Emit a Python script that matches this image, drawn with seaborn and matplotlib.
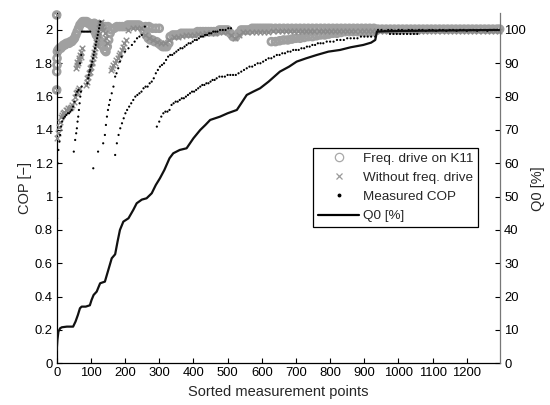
import numpy as np
import pandas as pd
import matplotlib as mpl
mpl.use("Agg")
import matplotlib.pyplot as plt
from matplotlib.lines import Line2D
import seaborn as sns

# --- values (x = sorted point index) ---
# Q0 [%] (right axis)
q0_curve = [(0, 4), (2, 7), (5, 9.5), (10, 10.5), (15, 10.8), (30, 11), (48, 11), (55, 12.5),
            (62, 14.5), (68, 16.5), (73, 17), (85, 17), (97, 17.4), (102, 19), (108, 20.5),
            (117, 21.5), (127, 24), (141, 24.5), (151, 28), (161, 31.5), (171, 32.7), (178, 36.5),
            (185, 40), (195, 42.5), (210, 43.5), (224, 46), (234, 48), (249, 49.1), (263, 49.5),
            (278, 51), (290, 53.5), (302, 55.5), (315, 58), (330, 61.5), (341, 63), (360, 64),
            (380, 64.5), (390, 66), (400, 67.5), (420, 70), (435, 71.5), (449, 73), (478, 74),
            (500, 75), (527, 76), (540, 78), (556, 80.5), (575, 81.5), (595, 82.5), (620, 84.5),
            (653, 87.5), (680, 89), (702, 90.5), (730, 91.5), (761, 92.5), (795, 93.5), (829, 94),
            (860, 94.8), (897, 95.5), (920, 96.2), (932, 97), (937, 99.5), (960, 99.6),
            (1000, 99.7), (1100, 99.8), (1200, 99.9), (1297, 100)]

# Measured COP (black dots), several branches
meas_b1 = [(0, 0.70), (1, 0.87), (2, 1.03), (3, 1.20), (5, 1.28), (8, 1.33), (10, 1.37), (13, 1.42),
           (16, 1.45), (20, 1.47), (24, 1.48), (28, 1.49), (32, 1.50), (36, 1.50), (40, 1.51),
           (44, 1.52), (48, 1.54), (52, 1.57), (56, 1.61), (60, 1.63), (64, 1.64), (68, 1.80),
           (72, 1.85), (74, 1.99), (78, 1.99), (82, 1.99), (86, 1.99), (90, 1.99), (94, 1.99), (98, 1.99)]
meas_b2 = [(50, 1.27), (54, 1.34), (57, 1.38), (59, 1.41), (61, 1.45), (63, 1.48), (65, 1.52),
           (67, 1.56), (69, 1.60), (71, 1.63), (73, 1.66)]
meas_b3 = [(90, 1.68), (92, 1.71), (94, 1.73), (96, 1.75), (98, 1.76), (100, 1.78), (102, 1.79),
           (104, 1.81), (106, 1.83), (108, 1.85), (110, 1.87), (112, 1.89), (114, 1.91), (116, 1.93),
           (118, 1.95), (120, 1.97), (122, 1.99), (124, 2.01), (126, 2.03), (128, 2.05)]
meas_b4 = [(107, 1.17), (121, 1.27), (136, 1.32), (141, 1.37), (144, 1.43), (147, 1.48), (150, 1.52),
           (153, 1.55), (156, 1.58), (161, 1.62), (166, 1.66), (171, 1.72), (175, 1.74), (180, 1.77),
           (185, 1.81), (190, 1.84), (200, 1.87), (210, 1.89), (220, 1.91), (228, 1.93), (235, 1.95),
           (242, 1.96), (249, 1.97), (258, 2.02), (266, 1.90)]
meas_b5 = [(171, 1.25), (176, 1.32), (181, 1.37), (186, 1.41), (191, 1.44), (196, 1.47), (201, 1.50),
           (206, 1.52), (212, 1.54), (218, 1.56), (224, 1.58), (230, 1.60), (236, 1.61), (242, 1.62),
           (248, 1.63), (254, 1.65), (260, 1.66), (266, 1.66), (272, 1.68), (278, 1.69), (284, 1.71),
           (290, 1.74), (296, 1.76), (302, 1.78), (308, 1.79), (314, 1.80), (320, 1.82), (326, 1.84),
           (332, 1.85), (338, 1.85), (344, 1.86), (350, 1.87), (356, 1.88), (362, 1.89), (368, 1.89),
           (374, 1.90), (380, 1.91), (386, 1.92), (392, 1.92), (398, 1.93), (404, 1.94), (410, 1.94),
           (416, 1.95), (422, 1.96), (428, 1.96), (434, 1.97), (440, 1.97), (446, 1.98), (452, 1.98),
           (458, 1.99), (464, 1.99), (470, 1.99), (478, 2.00), (486, 2.00), (494, 2.00), (502, 2.01),
           (510, 2.01)]
meas_b6 = [(293, 1.42), (300, 1.45), (306, 1.48), (312, 1.50), (318, 1.51), (324, 1.51), (330, 1.52),
           (336, 1.55), (342, 1.56), (348, 1.57), (354, 1.57), (360, 1.58), (366, 1.59), (372, 1.59),
           (378, 1.60), (384, 1.61), (390, 1.62), (396, 1.63), (402, 1.63), (408, 1.64), (414, 1.65),
           (420, 1.66), (426, 1.67), (432, 1.67), (438, 1.68), (444, 1.68), (450, 1.69), (456, 1.70),
           (462, 1.70), (468, 1.71), (476, 1.72), (484, 1.72), (492, 1.72), (500, 1.73), (508, 1.73),
           (516, 1.73), (524, 1.73), (532, 1.74), (540, 1.75), (548, 1.76), (556, 1.77), (564, 1.78),
           (572, 1.78), (580, 1.79), (588, 1.80), (596, 1.80), (604, 1.81), (612, 1.82), (620, 1.83),
           (628, 1.83), (636, 1.84), (644, 1.85), (652, 1.85), (660, 1.86), (668, 1.86), (676, 1.87),
           (684, 1.87), (692, 1.88), (700, 1.88), (708, 1.88), (716, 1.89), (724, 1.89), (732, 1.90),
           (740, 1.90), (748, 1.91), (756, 1.91), (764, 1.92), (772, 1.92), (780, 1.92), (790, 1.93),
           (800, 1.93), (810, 1.93), (820, 1.94), (830, 1.94), (840, 1.94), (850, 1.95), (860, 1.95),
           (870, 1.95), (880, 1.95), (890, 1.96), (900, 1.96), (910, 1.96), (920, 1.96), (932, 1.96)]
meas_top = [(940, 2.00), (950, 2.00), (960, 1.995), (970, 2.00), (980, 2.00), (990, 1.995),
            (1000, 2.00), (1010, 2.00), (1020, 1.995), (1030, 2.00), (1040, 2.00), (1050, 1.995),
            (1060, 2.00), (1070, 2.00), (1080, 1.995), (1090, 2.00), (1100, 2.00), (1110, 1.995),
            (1120, 2.00), (1130, 2.00), (1140, 1.995), (1150, 2.00), (1160, 2.00), (1170, 1.995),
            (1180, 2.00), (1190, 2.00), (1200, 1.995), (1210, 2.00), (1220, 2.00), (1230, 1.995),
            (1240, 2.00), (1250, 2.00), (1260, 1.995), (1270, 2.00), (1280, 2.00), (1290, 2.00),
            (975, 1.976), (985, 1.976), (995, 1.976), (1005, 1.976), (1015, 1.976), (1025, 1.976),
            (1035, 1.976), (1045, 1.976), (1055, 1.976)]

# Modelled COP without frequency drive (grey crosses)
nofd_b1 = [(0, 1.35), (0, 1.64), (1, 1.87), (0, 2.09), (3, 1.38), (6, 1.42), (9, 1.45), (12, 1.48),
           (15, 1.49), (18, 1.50), (22, 1.51), (26, 1.52), (30, 1.52), (34, 1.53), (38, 1.53),
           (42, 1.54), (46, 1.55), (50, 1.57), (53, 1.60), (56, 1.62), (59, 1.63), (62, 1.64), (65, 1.65),
           (55, 1.77), (58, 1.79), (60, 1.81), (62, 1.80), (64, 1.83), (66, 1.82), (68, 1.85),
           (70, 1.84), (72, 1.87), (74, 1.89)]
nofd_b2 = [(86, 1.67), (88, 1.69), (90, 1.71), (92, 1.72), (94, 1.74), (96, 1.75), (98, 1.77),
           (100, 1.78), (102, 1.80), (104, 1.81), (106, 1.83), (108, 1.85), (110, 1.87), (112, 1.89),
           (114, 1.91), (116, 1.93), (118, 1.95), (120, 1.97), (122, 1.99), (124, 2.01), (126, 2.03),
           (128, 2.04), (130, 2.05), (132, 2.02), (136, 2.00), (140, 1.98), (144, 1.95), (148, 1.92)]
nofd_b3 = [(158, 1.76), (162, 1.77), (166, 1.79), (170, 1.80), (174, 1.82), (178, 1.83), (182, 1.85),
           (186, 1.86), (190, 1.88), (194, 1.90), (198, 1.92), (202, 1.94)]
nofd_band = [(210, 2.00), (222, 2.01), (234, 2.01), (246, 2.01), (258, 1.97), (270, 1.95), (282, 1.94),
             (294, 1.93), (306, 1.92), (318, 1.92), (330, 1.94), (342, 1.96), (354, 1.96), (366, 1.965),
             (378, 1.97), (390, 1.97), (402, 1.97), (414, 1.975), (426, 1.975), (438, 1.98), (450, 1.98),
             (462, 1.98), (474, 1.985), (486, 1.985), (498, 1.985), (510, 1.97), (522, 1.95), (534, 1.97),
             (546, 1.985), (558, 1.985), (570, 1.99), (582, 1.99), (594, 1.99), (606, 1.99), (618, 1.99),
             (634, 1.995), (646, 1.995), (658, 1.995), (670, 1.995), (682, 1.995), (694, 1.995),
             (706, 1.995), (718, 1.995), (730, 1.995), (742, 1.995), (754, 1.995), (766, 1.995),
             (778, 1.995), (790, 1.995), (802, 1.995), (814, 1.995), (826, 1.995), (838, 1.995),
             (850, 1.995), (862, 1.995), (874, 1.995), (886, 1.995), (898, 1.995), (910, 1.995),
             (922, 1.995), (934, 1.995), (946, 1.995), (958, 1.995), (970, 1.995), (982, 1.995),
             (994, 1.995), (1006, 1.995), (1018, 1.995), (1030, 1.995), (1042, 1.995), (1054, 1.995),
             (1066, 1.995), (1078, 1.995), (1090, 1.995), (1102, 1.995), (1114, 1.995), (1126, 1.995),
             (1138, 1.995), (1150, 1.995), (1162, 1.995), (1174, 1.995), (1186, 1.995), (1198, 1.995),
             (1210, 1.995), (1222, 1.995), (1234, 1.995), (1246, 1.995), (1258, 1.995), (1270, 1.995),
             (1282, 1.995), (1294, 1.995)]

# Modelled COP with frequency drive on K11 (grey open circles)
fd_edge = [(0, 2.09), (0, 1.64), (0, 1.75), (1, 1.79), (1, 1.83), (2, 1.87)]
fd_band_a = [(4, 1.88), (8, 1.89), (12, 1.89), (16, 1.90), (20, 1.91), (24, 1.91), (28, 1.92),
             (32, 1.92), (36, 1.92), (40, 1.93), (44, 1.93), (48, 1.94), (52, 1.95), (56, 1.97),
             (60, 1.99), (64, 2.01), (68, 2.03), (72, 2.04), (76, 2.05), (80, 2.05), (84, 2.05),
             (88, 2.05), (92, 2.04), (96, 2.04), (100, 2.03), (104, 2.02)]
fd_dip_a = [(108, 2.01), (112, 1.99), (116, 1.97), (120, 1.96), (124, 1.94), (128, 1.93), (132, 1.91),
            (136, 1.90), (140, 1.88), (144, 1.87), (148, 1.90), (152, 1.94), (156, 1.98), (110, 2.04),
            (118, 2.03), (126, 2.03), (134, 2.02), (142, 2.02), (150, 2.02)]
fd_band_b = [(160, 2.00), (168, 2.01), (176, 2.02), (184, 2.02), (192, 2.02), (200, 2.02), (208, 2.03),
             (216, 2.03), (224, 2.03), (232, 2.03), (240, 2.03), (248, 2.02)]
fd_dip_b = [(256, 1.99), (262, 1.97), (268, 1.95), (274, 1.94), (280, 1.94), (286, 1.93), (292, 1.93),
            (298, 1.92), (304, 1.91), (310, 1.90), (316, 1.90), (322, 1.90), (328, 1.92), (260, 2.02),
            (270, 2.02), (280, 2.01), (290, 2.01), (300, 2.01)]
fd_band_c = [(332, 1.96), (340, 1.97), (348, 1.97), (356, 1.97), (364, 1.98), (372, 1.98), (380, 1.98),
             (388, 1.98), (396, 1.98), (404, 1.98), (412, 1.99), (420, 1.99), (428, 1.99), (436, 1.99),
             (444, 1.99), (452, 1.99), (460, 1.99), (468, 1.99), (476, 2.00), (484, 2.00), (492, 2.00),
             (500, 2.00), (508, 1.98), (516, 1.96), (524, 1.96), (532, 1.98), (540, 2.00), (548, 2.00),
             (556, 2.00), (564, 2.00), (572, 2.01), (580, 2.01), (588, 2.01), (596, 2.01), (604, 2.01),
             (612, 2.01), (620, 2.01)]
fd_top = [(628, 2.01), (640, 2.01), (652, 2.01), (664, 2.01), (676, 2.01), (688, 2.01), (700, 2.01),
          (712, 2.01), (724, 2.01), (736, 2.01), (748, 2.01), (760, 2.01), (772, 2.01), (784, 2.01),
          (796, 2.01), (808, 2.01), (820, 2.01), (832, 2.01), (844, 2.01), (856, 2.01), (868, 2.01),
          (880, 2.01), (892, 2.01), (904, 2.01), (916, 2.01), (928, 2.01), (940, 2.005), (952, 2.005),
          (964, 2.005), (976, 2.005), (988, 2.005), (1000, 2.005), (1012, 2.005), (1024, 2.005),
          (1036, 2.005), (1048, 2.005), (1060, 2.005), (1072, 2.005), (1084, 2.005), (1096, 2.005),
          (1108, 2.005), (1120, 2.005), (1132, 2.005), (1144, 2.005), (1156, 2.005), (1168, 2.005),
          (1180, 2.005), (1192, 2.005), (1204, 2.005), (1216, 2.005), (1228, 2.005), (1240, 2.005),
          (1252, 2.005), (1264, 2.005), (1276, 2.005), (1288, 2.005), (1296, 2.005)]
fd_lower = [(628, 1.93), (640, 1.93), (652, 1.935), (664, 1.94), (676, 1.94), (688, 1.945), (700, 1.95),
            (712, 1.95), (724, 1.955), (736, 1.96), (748, 1.96), (760, 1.965), (772, 1.97), (784, 1.97),
            (796, 1.975), (808, 1.98), (820, 1.98), (832, 1.985), (844, 1.99), (856, 1.99), (868, 1.99),
            (880, 1.99), (892, 1.99), (904, 1.99), (916, 1.99), (928, 1.99)]


def frame(*branches):
    pts = [p for b in branches for p in b]
    return pd.DataFrame(pts, columns=["point", "cop"])


fd = frame(fd_edge, fd_band_a, fd_dip_a, fd_band_b, fd_dip_b, fd_band_c, fd_top, fd_lower)
nofd = frame(nofd_b1, nofd_b2, nofd_b3, nofd_band)
meas = frame(meas_b1, meas_b2, meas_b3, meas_b4, meas_b5, meas_b6, meas_top)
q0 = pd.DataFrame(q0_curve, columns=["point", "q0"])

sns.set_theme(style="ticks")
plt.rcParams["font.family"] = ["Liberation Sans", "DejaVu Sans"]
plt.rcParams["xtick.direction"] = "in"
plt.rcParams["ytick.direction"] = "in"

fig, ax = plt.subplots(figsize=(5.5, 4.05), dpi=100)
fig.subplots_adjust(left=0.1031, right=0.9091, bottom=0.1030, top=0.9672)

c_circle = "#a0a0a0"
c_cross = "#8c8c8c"

sns.scatterplot(data=fd, x="point", y="cop", ax=ax, marker="o", s=24,
                facecolor="none", edgecolor=c_circle, linewidth=2.0, clip_on=False, zorder=2)
sns.scatterplot(data=nofd, x="point", y="cop", ax=ax, marker="x", s=16,
                color=c_cross, linewidth=1.0, clip_on=False, zorder=3)
sns.scatterplot(data=meas, x="point", y="cop", ax=ax, marker="o", s=2.5,
                color="black", edgecolor="none", zorder=4)

ax2 = ax.twinx()
sns.lineplot(data=q0, x="point", y="q0", ax=ax2, color="#111111", lw=1.6,
             estimator=None, sort=False)

ax.set_xlim(0, 1297)
ax.set_ylim(0, 2.1)
ax2.set_ylim(0, 105)
ax.set_xticks(np.arange(0, 1201, 100))
ax.set_yticks(np.arange(0, 2.01, 0.2))
ax.set_yticklabels(["0", "0.2", "0.4", "0.6", "0.8", "1", "1.2", "1.4", "1.6", "1.8", "2"])
ax2.set_yticks(np.arange(0, 101, 10))

fs = 9.4
ax.set_xlabel("Sorted measurement points", fontsize=10.5, labelpad=4)
ax.set_ylabel("COP [\u2212]", fontsize=10.5, labelpad=2)
ax2.set_ylabel("Q0 [%]", fontsize=10.5, labelpad=4)
for a in (ax, ax2):
    a.tick_params(labelsize=fs, length=3.5, width=0.8, colors="black", pad=3)
    a.spines["top"].set_visible(False)
ax.spines["right"].set_visible(False)
ax2.spines["left"].set_visible(False)
ax2.spines["bottom"].set_visible(False)
ax2.spines["right"].set_color("#777777")
for s in ("left", "bottom"):
    ax.spines[s].set_color("black")
    ax.spines[s].set_linewidth(0.9)
ax2.spines["right"].set_linewidth(0.9)

handles = [
    Line2D([], [], ls="none", marker="o", mfc="none", mec="#a8a8a8", ms=6, mew=0.9),
    Line2D([], [], ls="none", marker="x", color="#9a9a9a", ms=5, mew=0.9),
    Line2D([], [], ls="none", marker="o", color="black", ms=1.8),
    Line2D([], [], color="black", lw=1.6),
]
labels = ["Freq. drive on K11", "Without freq. drive", "Measured COP", "Q0 [%]"]
leg = ax2.legend(handles, labels, loc="upper left", bbox_to_anchor=(0.578, 0.616),
                 fontsize=9.7, frameon=True, fancybox=False, framealpha=1,
                 edgecolor="black", borderpad=0.35, borderaxespad=0, handlelength=3.1,
                 handletextpad=0.25, labelspacing=0.5)
leg.get_frame().set_linewidth(0.9)

fig.savefig("out.png", dpi=100)
